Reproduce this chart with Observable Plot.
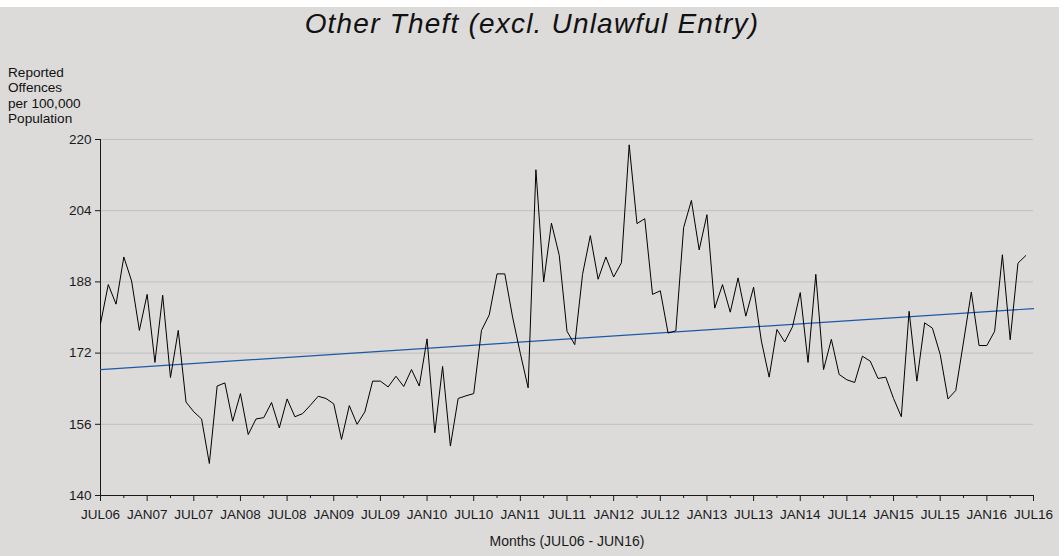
<!DOCTYPE html>
<html>
<head>
<meta charset="utf-8">
<script src="https://cdn.jsdelivr.net/npm/d3@7"></script>
<script src="https://cdn.jsdelivr.net/npm/@observablehq/plot@0.6"></script>
<style>
  html, body { margin: 0; padding: 0; background: #ffffff; }
  #panel { position: absolute; left: 0; top: 7px; width: 1059px; height: 549px; background: #dcdbda; overflow: hidden; font-family: "Liberation Sans", Arial, sans-serif; }
  #title { position: absolute; left: 0; top: 2px; width: 1064px; text-align: center; font-style: italic; font-size: 28px; letter-spacing: 1.2px; line-height: 30px; color: #111; white-space: nowrap; }
  #ylabel { position: absolute; left: 8px; top: 58px; font-size: 13.6px; line-height: 15.3px; color: #111; }
  #chart { position: absolute; left: 0; top: 0; }
</style>
</head>
<body>
<div id="panel">
  <div id="chart"></div>
  <div id="title">Other Theft (excl. Unlawful Entry)</div>
  <div id="ylabel">Reported<br>Offences<br>per 100,000<br>Population</div>
</div>
<script>
// Monthly values, JUL06 (index 0) to JUN16 (index 119)
const values = [
  178.6, 187.4, 183.0, 193.6, 188.2, 177.1, 185.2, 169.9, 185.0, 166.5, 177.1, 161.0,
  158.8, 157.2, 147.2, 164.6, 165.3, 156.7, 162.9, 153.7, 157.2, 157.5, 160.9, 155.2,
  161.7, 157.7, 158.4, 160.3, 162.3, 161.8, 160.6, 152.6, 160.2, 156.0, 158.8, 165.7,
  165.7, 164.4, 166.8, 164.5, 168.3, 164.6, 175.2, 154.1, 169.0, 151.1, 161.8, 162.4,
  162.9, 177.1, 180.6, 189.8, 189.8, 180.1, 171.9, 164.2, 213.2, 188.0, 201.2, 194.0,
  176.9, 173.9, 189.7, 198.4, 188.6, 193.6, 189.1, 192.3, 218.8, 201.1, 202.2, 185.2,
  186.0, 176.5, 177.0, 200.2, 206.3, 195.2, 203.1, 182.1, 187.4, 181.2, 188.9, 180.3,
  186.8, 174.7, 166.6, 177.3, 174.5, 177.9, 185.6, 169.9, 189.7, 168.3, 175.1, 167.2,
  166.0, 165.4, 171.3, 170.2, 166.3, 166.6, 161.8, 157.7, 181.4, 165.7, 178.8, 177.6,
  171.7, 161.7, 163.6, 174.5, 185.7, 173.7, 173.7, 176.9, 194.1, 175.0, 192.2, 193.9
];
// Linear trend line end values (at JUL06 and JUL16)
const trendValues = [168.3, 182.0];
const trendMonths = [0, 120];
// Axis ticks
const xTickLabels = ["JUL06","JAN07","JUL07","JAN08","JUL08","JAN09","JUL09","JAN10","JUL10","JAN11",
  "JUL11","JAN12","JUL12","JAN13","JUL13","JAN14","JUL14","JAN15","JUL15","JAN16","JUL16"];
const yTicks = [140, 156, 172, 188, 204, 220];
const xTitle = "Months (JUL06 - JUN16)";

const data = values.map((v, i) => ({month: i, value: v}));
const trend = trendMonths.map((m, i) => ({month: m, value: trendValues[i]}));
const majorTicks = xTickLabels.map((_, i) => i * 6);
const minorTicks = xTickLabels.slice(0, -1).map((_, i) => i * 6 + 3);

const chart = Plot.plot({
  width: 1059,
  height: 549,
  marginLeft: 100,
  marginRight: 26,
  marginTop: 132,
  marginBottom: 61,
  style: {background: "transparent", fontFamily: "'Liberation Sans', Arial, sans-serif", fontSize: "13.5px", color: "#1a1a1a", overflow: "visible"},
  x: {domain: [0, 120]},
  y: {domain: [140, 220]},
  marks: [
    Plot.gridY(yTicks.filter(t => t > 140), {stroke: "#c0c0c0", strokeOpacity: 1, strokeWidth: 1}),
    Plot.axisY(yTicks, {tickSize: 5, tickPadding: 4, label: null, fontSize: 13.5}),
    Plot.axisX(minorTicks, {tickSize: 3, tickFormat: () => "", label: null}),
    Plot.axisX(majorTicks, {tickSize: 6, tickPadding: 8, tickFormat: d => xTickLabels[Math.round(d / 6)], label: null, fontSize: 13.5}),
    Plot.ruleX([0], {stroke: "#1a1a1a"}),
    Plot.ruleY([140], {stroke: "#1a1a1a"}),
    Plot.line(trend, {x: "month", y: "value", stroke: "#1f58a6", strokeWidth: 1.2}),
    Plot.line(data, {x: "month", y: "value", stroke: "#000000", strokeWidth: 1}),
    Plot.text([xTitle], {frameAnchor: "bottom", dy: 50, fontSize: 14, fill: "#1a1a1a"})
  ]
});
document.getElementById("chart").appendChild(chart);
</script>
</body>
</html>
